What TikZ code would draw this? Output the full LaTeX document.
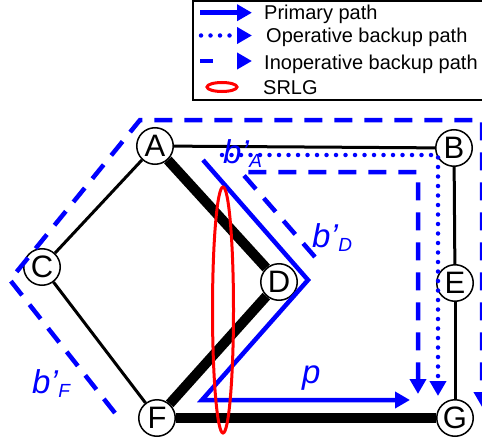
\documentclass[tikz,border=0pt]{standalone}
\usepackage{fontspec}
\setmainfont{Liberation Sans}
\usetikzlibrary{arrows.meta,backgrounds}
\definecolor{pblue}{RGB}{0,0,255}
\definecolor{sred}{RGB}{255,0,0}
\newcommand{\bprm}[1]{\textit{b’}\raisebox{-4pt}{\fontsize{19}{19}\selectfont\textit{#1}}}
\begin{document}
\begin{tikzpicture}[x=1pt,y=-1pt,
  vertex/.style={circle, draw, line width=1.5pt, fill=white, minimum size=36.5pt, inner sep=0pt, font=\fontsize{31}{31}\selectfont},
  thinedge/.style={line width=3pt},
  thickedge/.style={line width=10pt},
  bluetip/.style={-{Triangle[length=15pt,width=16pt]}},
  primary/.style={pblue, line width=4.5pt, line join=miter},
  operative/.style={pblue, line width=4.5pt, line cap=round, dash pattern=on 0pt off 9.5pt},
  inoperative/.style={pblue, line width=4.5pt, dash pattern=on 18pt off 12pt},
  srlg/.style={sred, line width=3pt},
  lbl/.style={pblue, inner sep=0pt, anchor=base west, font=\fontsize{33}{33}\selectfont},
  legendtext/.style={inner sep=0pt, anchor=base west, font=\fontsize{20}{20}\selectfont}]
\useasboundingbox (0,0) rectangle (482,444);
\clip (0,0) rectangle (482,444);

% legend
\draw[line width=2pt] (193,1) rectangle (485,100);
\coordinate (l1s) at (200,12.7); \coordinate (l1e) at (252,12.7);
\coordinate (l2s) at (201,35.5); \coordinate (l2e) at (252,35.5);
\coordinate (l3s) at (200,61); \coordinate (l3e) at (252,61);
\draw[primary, bluetip] (l1s) -- (l1e);
\draw[operative, bluetip] (l2s) -- (l2e);
\draw[pblue, line width=4.5pt, dash pattern=on 13pt off 30pt, bluetip] (l3s) -- (l3e);
\draw[srlg] (222,87) ellipse [x radius=15pt, y radius=4.5pt];
\node[legendtext] (t1) at (264,19.5) {Primary path};
\node[legendtext] (t2) at (266,43) {Operative backup path};
\node[legendtext] (t3) at (264,69.5) {Inoperative backup path};
\node[legendtext] (t4) at (263,95) {SRLG};

% nodes
\node[vertex] (A) at (155,146) {A};
\node[vertex] (B) at (454,148) {B};
\node[vertex] (C) at (42,267) {C};
\node[vertex] (D) at (279,282) {D};
\node[vertex] (E) at (455,283) {E};
\node[vertex] (F) at (157,418) {F};
\node[vertex] (G) at (455,418) {G};

\begin{scope}[on background layer]
  \draw[thinedge] (A) -- (B);
  \draw[thinedge] (A) -- (C);
  \draw[thinedge] (C) -- (F);
  \draw[thinedge] (B) -- (E);
  \draw[thinedge] (E) -- (G);
  \draw[thickedge] (A) -- (D);
  \draw[thickedge] (D) -- (F);
  \draw[thickedge] (F) -- (G);
\end{scope}

% primary path p
\coordinate (p1) at (203,160);
\coordinate (p2) at (308,280);
\coordinate (p3) at (202,400);
\coordinate (p4) at (410,400);
\draw[primary, bluetip] (p1) -- (p2) -- (p3) -- (p4);

% operative backup b'_A
\coordinate (a1) at (222,155);
\coordinate (a2) at (438,155);
\coordinate (a3) at (438,396);
\draw[operative, bluetip] (a1) -- (a2) -- (a3);

% inoperative backup b'_D
\coordinate (d1) at (315,257);
\coordinate (d2) at (241,172);
\coordinate (d3) at (418,172);
\coordinate (d4) at (418,394);
\draw[inoperative, bluetip] (d1) -- (d2) -- (d3) -- (d4);

% inoperative backup b'_F
\coordinate (f1) at (115,413);
\coordinate (f2) at (10,280);
\coordinate (f3) at (140,120);
\coordinate (f4) at (482,120);
\coordinate (f5) at (482,407);
\draw[inoperative, bluetip] (f1) -- (f2) -- (f3) -- (f4) -- (f5);

% SRLG
\draw[srlg] (223,310) ellipse [x radius=10.5pt, y radius=123pt];

% labels
\node[lbl] (lA) at (223,163) {\bprm{A}};
\node[lbl] (lD) at (312,247) {\bprm{D}};
\node[lbl] (lF) at (32,393) {\bprm{F}};
\node[lbl] (lp) at (302,383) {\textit{p}};
\end{tikzpicture}
\end{document}
